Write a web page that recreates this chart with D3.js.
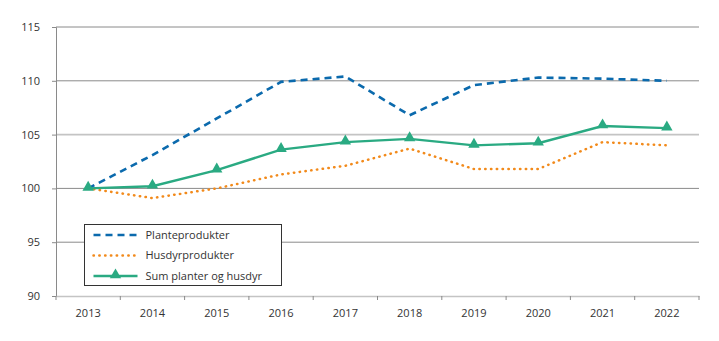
<!DOCTYPE html>
<html>
<head>
<meta charset="utf-8">
<script src="https://cdn.jsdelivr.net/npm/d3@7"></script>
<style>
  body { margin: 0; background: #fff; }
  svg text { font-family: "Open Sans", "Noto Sans", sans-serif; fill: #333; }
</style>
</head>
<body>
<svg id="chart" width="719" height="341"></svg>
<script>
// data
const years = ["2013", "2014", "2015", "2016", "2017", "2018", "2019", "2020", "2021", "2022"];
const plante = [100, 103.1, 106.5, 109.9, 110.4, 106.8, 109.6, 110.3, 110.2, 110.0];
const husdyr = [100, 99.1, 100.0, 101.3, 102.1, 103.7, 101.8, 101.8, 104.3, 104.0];
const sum = [100, 100.2, 101.7, 103.6, 104.3, 104.6, 104.0, 104.2, 105.8, 105.6];
const yTicks = [90, 95, 100, 105, 110, 115];

const series = [
  { name: "Planteprodukter", values: plante, color: "#0b6aad", dash: "7,5", width: 2.6, cap: "butt" },
  { name: "Husdyrprodukter", values: husdyr, color: "#f28a1b", dash: "0.4,5.4", width: 2.5, cap: "round" },
  { name: "Sum planter og husdyr", values: sum, color: "#2aaa82", dash: null, width: 2.4, cap: "butt", marker: true }
];

const svg = d3.select("#chart");
const M = { left: 56, right: 20, top: 27, bottom: 45 };
const W = 719, H = 341;

const x = d3.scaleBand().domain(years).range([M.left, W - M.right]);
const y = d3.scaleLinear().domain([90, 115]).range([H - M.bottom, M.top]);

// gridlines
svg.append("g")
  .selectAll("line")
  .data(yTicks.filter((d) => d > 90))
  .enter()
  .append("line")
  .attr("x1", M.left)
  .attr("x2", W - M.right)
  .attr("y1", (d) => y(d))
  .attr("y2", (d) => y(d))
  .attr("stroke", (d) => (d === 105 ? "#c4c4c4" : "#8a8a8a"))
  .attr("stroke-width", (d) => (d === 105 ? 1.6 : 1));

// y axis
const yAxis = svg.append("g")
  .attr("transform", `translate(${M.left},0)`)
  .call(d3.axisLeft(y).tickValues(yTicks).tickSize(4).tickPadding(12));
yAxis.select(".domain").attr("stroke", "#8a8a8a");
yAxis.selectAll(".tick line").attr("stroke", "#8a8a8a");
yAxis.selectAll("text").attr("font-size", 11).attr("fill", "#333");

// x axis
const xAxis = svg.append("g")
  .attr("transform", `translate(0,${y(90)})`)
  .call(d3.axisBottom(x).tickSize(0).tickPadding(13));
xAxis.select(".domain").attr("stroke", "#c4c4c4").attr("stroke-width", 1.6);
xAxis.selectAll("text").attr("font-size", 11).attr("fill", "#333");
xAxis.selectAll("line.sep")
  .data(years.concat(["end"]))
  .enter()
  .append("line")
  .attr("class", "sep")
  .attr("x1", (d, i) => (i < years.length ? x(d) : x(years[years.length - 1]) + x.bandwidth()))
  .attr("x2", (d, i) => (i < years.length ? x(d) : x(years[years.length - 1]) + x.bandwidth()))
  .attr("y1", 0)
  .attr("y2", 4)
  .attr("stroke", "#8a8a8a");

// lines
const line = d3.line()
  .x((d, i) => x(years[i]) + x.bandwidth() / 2)
  .y((d) => y(d));

series.forEach((s) => {
  svg.append("path")
    .datum(s.values)
    .attr("fill", "none")
    .attr("stroke", s.color)
    .attr("stroke-width", s.width)
    .attr("stroke-dasharray", s.dash)
    .attr("stroke-linecap", s.cap)
    .attr("d", line);
});

const tri = d3.symbol().type(d3.symbolTriangle).size(56);
svg.append("g")
  .selectAll("path")
  .data(sum)
  .enter()
  .append("path")
  .attr("d", tri)
  .attr("transform", (d, i) => `translate(${x(years[i]) + x.bandwidth() / 2},${y(d) - 1})`)
  .attr("fill", "#2aaa82");

// legend
const lg = svg.append("g").attr("transform", "translate(84.5,224.5)");
lg.append("rect")
  .attr("width", 197)
  .attr("height", 61)
  .attr("fill", "#fff")
  .attr("stroke", "#333")
  .attr("stroke-width", 1);

series.forEach((s, i) => {
  const row = lg.append("g").attr("transform", `translate(0,${10.5 + i * 20.5})`);
  row.append("line")
    .attr("x1", 9)
    .attr("x2", 53)
    .attr("stroke", s.color)
    .attr("stroke-width", s.width)
    .attr("stroke-dasharray", s.dash)
    .attr("stroke-linecap", s.cap);
  if (s.marker) {
    row.append("path").attr("d", tri).attr("transform", "translate(31,-1)").attr("fill", s.color);
  }
  row.append("text")
    .attr("x", 61)
    .attr("dy", "0.35em")
    .attr("font-size", 11)
    .text(s.name);
});
</script>
</body>
</html>
